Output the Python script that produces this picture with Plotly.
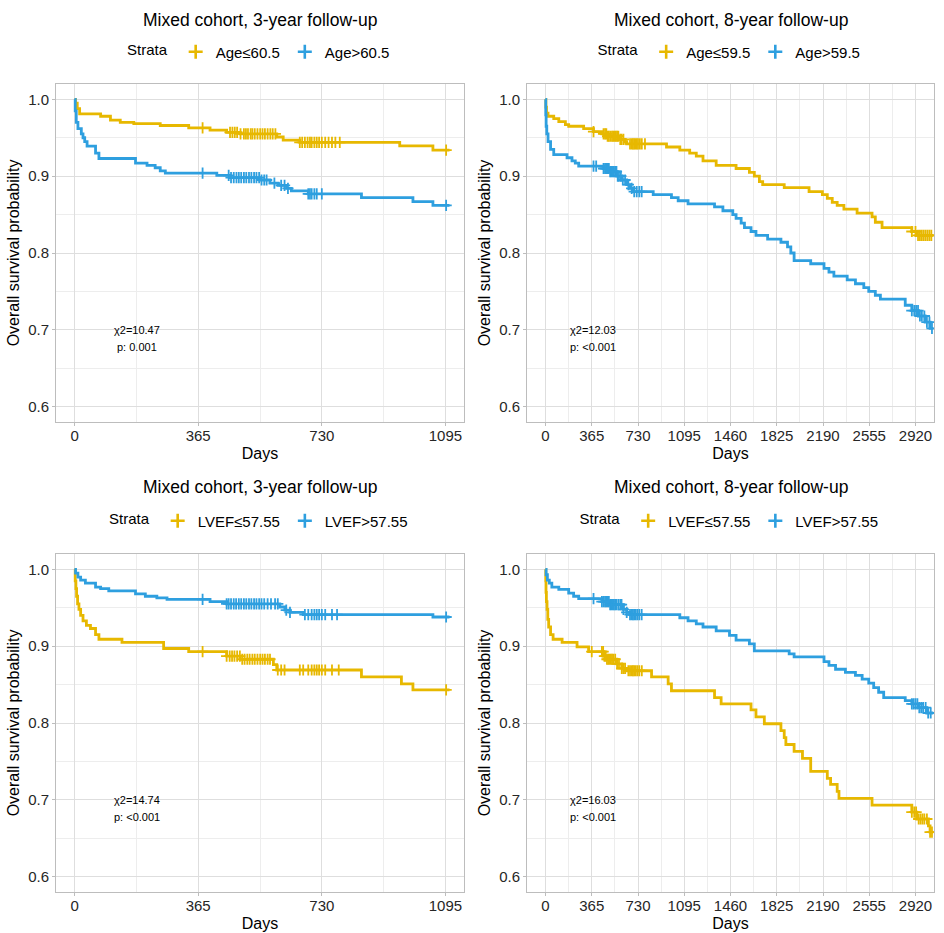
import plotly.graph_objects as go

# ---------------- data ----------------
YELLOW = "#E7B800"
BLUE = "#2E9FDF"

titles = ["Mixed cohort, 3-year follow-up", "Mixed cohort, 8-year follow-up",
          "Mixed cohort, 3-year follow-up", "Mixed cohort, 8-year follow-up"]
strata_labels = [["Age≤60.5", "Age>60.5"], ["Age≤59.5", "Age>59.5"],
                 ["LVEF≤57.55", "LVEF>57.55"], ["LVEF≤57.55", "LVEF>57.55"]]
chi2_text = ["χ2=10.47", "χ2=12.03", "χ2=14.74", "χ2=16.03"]
p_text = ["p: 0.001", "p: <0.001", "p: <0.001", "p: <0.001"]
x_ticks_3y = [0, 365, 730, 1095]
x_ticks_8y = [0, 365, 730, 1095, 1460, 1825, 2190, 2555, 2920]
y_ticks = [0.6, 0.7, 0.8, 0.9, 1.0]

# Panel 1: 3-year, age
tl_y_time = [0, 3, 8, 15, 77, 106, 135, 175, 253, 337, 400, 449, 489, 597, 616, 665, 960, 1058, 1107]
tl_y_surv = [1.0, 0.995, 0.988, 0.981, 0.978, 0.973, 0.970, 0.9685, 0.966, 0.963, 0.960, 0.957, 0.955, 0.951, 0.947, 0.944, 0.9395, 0.934, 0.934]
tl_y_cens = [378, 459, 466, 473, 480, 490, 500, 506, 512, 520, 525, 532, 540, 548, 555, 562, 570, 578, 585, 593,
             665, 672, 680, 688, 695, 700, 708, 715, 722, 730, 740, 750, 760, 770, 783, 1097]
tl_b_time = [0, 2, 5, 10, 20, 25, 30, 37, 62, 72, 180, 214, 238, 253, 268, 420, 459, 547, 577, 601, 626, 640, 690, 847, 999, 1058, 1107]
tl_b_surv = [1.0, 0.985, 0.97, 0.962, 0.955, 0.95, 0.945, 0.939, 0.93, 0.923, 0.917, 0.914, 0.911, 0.907, 0.904, 0.901, 0.898, 0.895, 0.891, 0.888, 0.884, 0.881, 0.877, 0.872, 0.867, 0.862, 0.862]
tl_b_cens = [378, 455, 462, 470, 478, 485, 492, 500, 507, 515, 522, 530, 537, 545, 552, 560, 567, 590, 610, 620, 630,
             690, 695, 700, 708, 715, 730, 1097]

# Panel 2: 8-year, age
tr_y_time = [0, 3, 8, 20, 65, 105, 157, 183, 301, 379, 445, 484, 589, 628, 641, 955, 1060, 1138, 1190, 1243, 1347, 1504,
             1609, 1648, 1688, 1714, 1884, 2080, 2185, 2224, 2263, 2302, 2355, 2459, 2577, 2603, 2656, 2891, 2930, 3060]
tr_y_surv = [1.0, 0.99, 0.982, 0.978, 0.975, 0.971, 0.967, 0.965, 0.962, 0.958, 0.955, 0.952, 0.948, 0.945, 0.942, 0.938,
             0.934, 0.930, 0.926, 0.920, 0.914, 0.910, 0.905, 0.900, 0.893, 0.889, 0.885, 0.880, 0.876, 0.871, 0.866, 0.862,
             0.857, 0.852, 0.847, 0.840, 0.833, 0.828, 0.823, 0.823]
tr_y_cens = [379, 458, 470, 480, 490, 500, 512, 525, 535, 545, 555, 565, 575, 590, 600, 615, 667, 680, 690, 700, 710, 720,
             730, 745, 760, 785, 2891, 2920, 2940, 2955, 2970, 2985, 3000, 3015, 3030, 3045]
tr_b_time = [0, 2, 5, 10, 20, 40, 65, 170, 209, 235, 262, 458, 510, 563, 602, 641, 667, 693, 850, 994, 1047, 1125, 1334,
             1400, 1478, 1504, 1544, 1570, 1622, 1661, 1753, 1858, 1910, 1936, 1962, 2093, 2198, 2237, 2276, 2381, 2446,
             2512, 2551, 2603, 2643, 2839, 2891, 2943, 2996, 3035, 3060]
tr_b_surv = [1.0, 0.98, 0.965, 0.955, 0.945, 0.935, 0.928, 0.924, 0.920, 0.917, 0.913, 0.910, 0.906, 0.900, 0.895, 0.889,
             0.884, 0.880, 0.876, 0.872, 0.868, 0.864, 0.860, 0.855, 0.850, 0.845, 0.839, 0.833, 0.828, 0.823, 0.818, 0.814,
             0.808, 0.800, 0.790, 0.786, 0.780, 0.775, 0.770, 0.765, 0.760, 0.755, 0.750, 0.745, 0.740, 0.732, 0.725,
             0.718, 0.710, 0.702, 0.702]
tr_b_cens = [379, 400, 458, 470, 480, 490, 500, 510, 520, 530, 540, 550, 560, 570, 580, 595, 610, 628, 654, 680, 700, 720,
             740, 759, 2891, 2910, 2925, 2940, 2955, 2970, 2990, 3010, 3030, 3050]

# Panel 3: 3-year, LVEF
bl_y_time = [0, 2, 4, 6, 9, 13, 18, 25, 35, 47, 62, 72, 140, 263, 337, 449, 489, 587, 597, 847, 965, 999, 1107]
bl_y_surv = [1.0, 0.985, 0.975, 0.965, 0.955, 0.948, 0.94, 0.933, 0.927, 0.923, 0.915, 0.909, 0.905, 0.897, 0.893, 0.887,
             0.883, 0.876, 0.869, 0.860, 0.851, 0.843, 0.843]
bl_y_cens = [378, 449, 458, 465, 472, 480, 488, 495, 502, 510, 517, 525, 532, 540, 548, 555, 562, 570, 577, 600, 610, 620,
             665, 675, 690, 700, 708, 715, 722, 730, 740, 760, 780, 1097]
bl_b_time = [0, 3, 10, 18, 32, 62, 77, 101, 180, 209, 243, 273, 400, 449, 606, 621, 636, 675, 1058, 1107]
bl_b_surv = [1.0, 0.995, 0.99, 0.986, 0.982, 0.977, 0.975, 0.972, 0.968, 0.965, 0.963, 0.961, 0.958, 0.955, 0.951, 0.947,
             0.944, 0.941, 0.938, 0.938]
bl_b_cens = [378, 449, 455, 462, 470, 477, 485, 492, 500, 507, 515, 522, 530, 537, 545, 552, 560, 570, 580, 592, 600, 625,
             636, 680, 690, 700, 708, 715, 722, 730, 740, 760, 775, 1097]

# Panel 4: 8-year, LVEF
br_y_time = [0, 2, 4, 7, 12, 18, 25, 40, 60, 131, 249, 340, 458, 484, 563, 602, 641, 837, 968, 994, 1334, 1386, 1622, 1661,
             1727, 1858, 1884, 1897, 1962, 2028, 2093, 2224, 2250, 2302, 2316, 2577, 2891, 2930, 3022, 3035, 3060]
br_y_surv = [1.0, 0.985, 0.97, 0.958, 0.948, 0.935, 0.925, 0.915, 0.909, 0.905, 0.899, 0.893, 0.887, 0.883, 0.877, 0.871,
             0.868, 0.860, 0.851, 0.842, 0.833, 0.825, 0.817, 0.808, 0.799, 0.790, 0.781, 0.772, 0.763, 0.754, 0.737, 0.728,
             0.720, 0.711, 0.702, 0.693, 0.684, 0.675, 0.666, 0.658, 0.658]
br_y_cens = [365, 445, 455, 465, 475, 485, 495, 505, 515, 525, 535, 550, 565, 580, 602, 615, 628, 654, 667, 680, 690, 700,
             712, 725, 740, 760, 2891, 2910, 2925, 2945, 2960, 2975, 2990, 3010, 3035, 3050]
br_b_time = [0, 5, 15, 30, 50, 105, 183, 222, 262, 445, 510, 615, 641, 667, 1060, 1125, 1190, 1243, 1347, 1452, 1504, 1609,
             1648, 1923, 1962, 2198, 2237, 2289, 2367, 2446, 2499, 2551, 2590, 2629, 2669, 2839, 2891, 2943, 3009, 3060]
br_b_surv = [1.0, 0.993, 0.986, 0.982, 0.977, 0.974, 0.969, 0.965, 0.962, 0.958, 0.954, 0.948, 0.944, 0.941, 0.937, 0.933,
             0.929, 0.925, 0.920, 0.914, 0.908, 0.903, 0.894, 0.890, 0.886, 0.880, 0.875, 0.870, 0.866, 0.862, 0.857, 0.852,
             0.846, 0.840, 0.833, 0.829, 0.825, 0.820, 0.813, 0.813]
br_b_cens = [379, 445, 458, 470, 480, 490, 500, 510, 520, 530, 540, 550, 560, 575, 590, 600, 615, 641, 667, 680, 690, 700,
             712, 725, 740, 759, 2891, 2905, 2920, 2935, 2950, 2965, 2980, 3000, 3020, 3040]

panels = [
    [(tl_y_time, tl_y_surv, tl_y_cens), (tl_b_time, tl_b_surv, tl_b_cens)],
    [(tr_y_time, tr_y_surv, tr_y_cens), (tr_b_time, tr_b_surv, tr_b_cens)],
    [(bl_y_time, bl_y_surv, bl_y_cens), (bl_b_time, bl_b_surv, bl_b_cens)],
    [(br_y_time, br_y_surv, br_y_cens), (br_b_time, br_b_surv, br_b_cens)],
]
is_8y = [False, True, False, True]
annot_x = [185, 373, 185, 373]

# ---------------- layout geometry ----------------
W, H = 944, 933
FONT = "Liberation Sans, Arial, Helvetica, sans-serif"
x_doms = [[56 / W, 464 / W], [527 / W, 934 / W]]
y_doms = [[1 - 422 / H, 1 - 84 / H], [1 - 892 / H, 1 - 554 / H]]
title_y = [1 - 20 / H, 1 - 487 / H]
legend_y = [1 - 52 / H, 1 - 521 / H]


def step_value(times, surv, t):
    v = surv[0]
    for ti, si in zip(times, surv):
        if ti <= t:
            v = si
        else:
            break
    return v


fig = go.Figure()
colors = [YELLOW, BLUE]
layout_updates = {}
annotations = []

for i in range(4):
    row, col = i // 2, i % 2
    sfx = "" if i == 0 else str(i + 1)
    xa, ya = "x" + sfx, "y" + sfx
    leg = "legend" + sfx
    for j, (tt, ss, cc) in enumerate(panels[i]):
        fig.add_trace(go.Scatter(x=tt, y=ss, mode="lines", line=dict(color=colors[j], width=2.8, shape="hv"),
                                 xaxis=xa, yaxis=ya, showlegend=False, hoverinfo="skip"))
        cy = [step_value(tt, ss, t) for t in cc]
        fig.add_trace(go.Scatter(x=cc, y=cy, mode="markers",
                                 marker=dict(symbol="cross-thin", size=8, line=dict(color=colors[j], width=1.8)),
                                 xaxis=xa, yaxis=ya, showlegend=False, hoverinfo="skip"))
    for j in range(2):
        fig.add_trace(go.Scatter(x=[None], y=[None], mode="markers", name=strata_labels[i][j],
                                 marker=dict(symbol="cross-thin", size=10, line=dict(color=colors[j], width=2.6)),
                                 xaxis=xa, yaxis=ya, legend=leg, showlegend=True))

    xr = [-146, 3066] if is_8y[i] else [-54.75, 1149.75]
    xt = x_ticks_8y if is_8y[i] else x_ticks_3y
    axis_common = dict(showline=True, mirror=True, linecolor="#BDBDBD", linewidth=1,
                       ticks="outside", ticklen=3, tickcolor="#BDBDBD", tickwidth=1,
                       tickfont=dict(size=15, color="#262626", family=FONT),
                       showgrid=True, gridcolor="#DEDEDE", gridwidth=1, zeroline=False, automargin=False)
    layout_updates["xaxis" + sfx] = dict(
        domain=x_doms[col], anchor=ya, range=xr, tickvals=xt, ticktext=[str(v) for v in xt],
        minor=dict(tickvals=[v + 182.5 for v in xt[:-1]] + ([xt[-1] + 182.5] if not is_8y[i] else []),
                   showgrid=True, gridcolor="#EDEDED", gridwidth=0.8, ticks=""),
        ticklabelstandoff=-3,
        title=dict(text="Days", font=dict(size=16, color="black", family=FONT), standoff=4),
        **axis_common)
    layout_updates["yaxis" + sfx] = dict(
        domain=y_doms[row], anchor=xa, range=[0.58, 1.02], tickvals=y_ticks,
        ticktext=["%.1f" % v for v in y_ticks],
        minor=dict(tickvals=[0.65, 0.75, 0.85, 0.95], showgrid=True, gridcolor="#EDEDED", gridwidth=0.8, ticks=""),
        title=dict(text="Overall survival probability", font=dict(size=16, color="black", family=FONT), standoff=4),
        **axis_common)
    xc = (x_doms[col][0] + x_doms[col][1]) / 2
    layout_updates[leg] = dict(
        orientation="h", x=xc, xanchor="center", y=legend_y[row], yanchor="middle",
        title=dict(text="Strata", side="left", font=dict(size=15, family=FONT, color="black")),
        font=dict(size=15, family=FONT, color="black"), bgcolor="rgba(0,0,0,0)",
        itemsizing="trace", itemwidth=30, tracegroupgap=0)
    annotations.append(dict(text=titles[i], x=xc, y=title_y[row], xref="paper", yref="paper",
                            xanchor="center", yanchor="middle", showarrow=False,
                            font=dict(size=17.5, family=FONT, color="black")))
    annotations.append(dict(text=chi2_text[i], x=annot_x[i], y=0.700, xref=xa, yref=ya,
                            xanchor="center", yanchor="middle", showarrow=False,
                            font=dict(size=11, family=FONT, color="black")))
    annotations.append(dict(text=p_text[i], x=annot_x[i], y=0.678, xref=xa, yref=ya,
                            xanchor="center", yanchor="middle", showarrow=False,
                            font=dict(size=11, family=FONT, color="black")))

fig.update_layout(width=W, height=H, margin=dict(l=0, r=0, t=0, b=0),
                  paper_bgcolor="white", plot_bgcolor="white",
                  font=dict(family=FONT, color="black"), annotations=annotations,
                  **layout_updates)

# remove the browser's default 8px page margin so the 944x933 figure fills the window exactly
fig.write_html("out.html", config={"displayModeBar": False},
               post_script="document.body.style.margin='0px';")
